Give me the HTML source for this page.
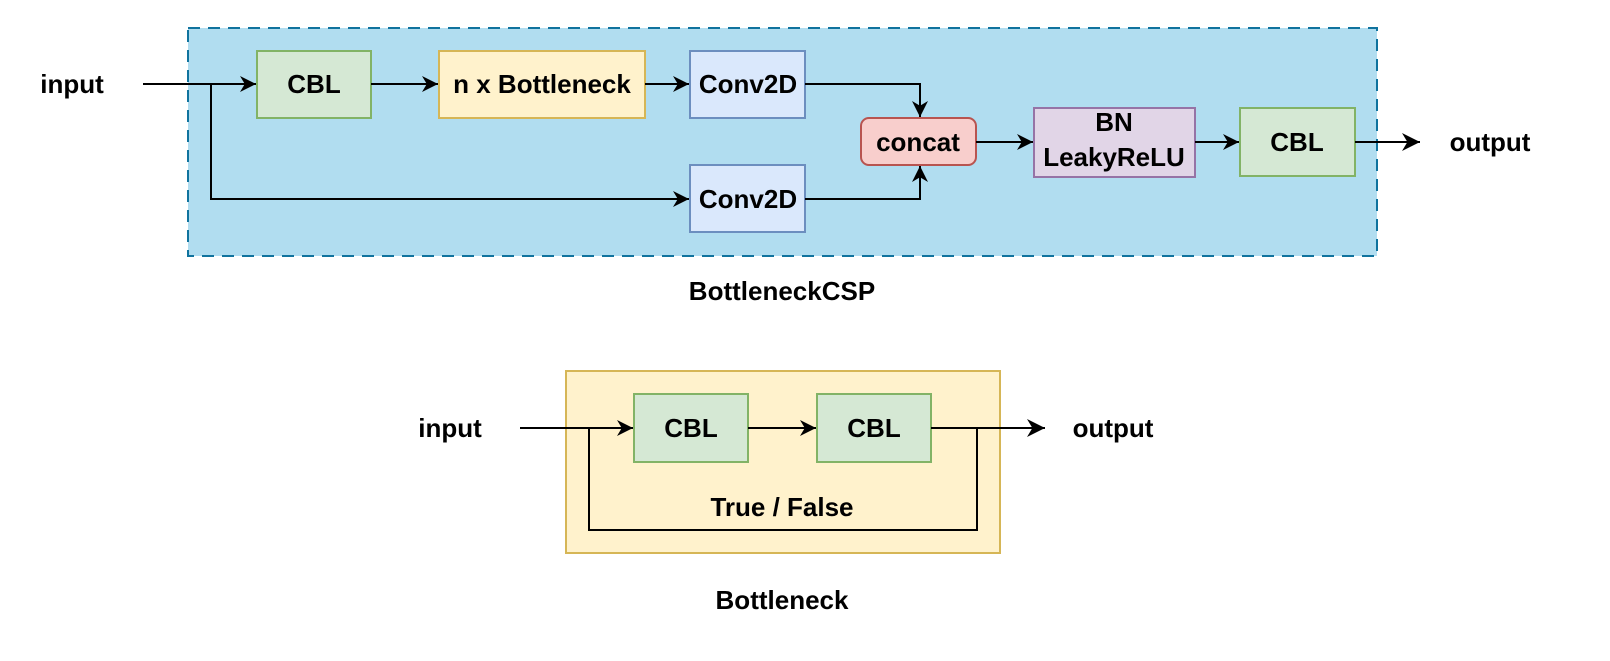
<!DOCTYPE html>
<html><head><style>html,body{margin:0;background:#fff;overflow:hidden}svg{display:block}</style></head><body>
<svg width="1610" height="661" viewBox="0 0 1610 661" xmlns="http://www.w3.org/2000/svg" font-family="Liberation Sans, sans-serif" font-weight="bold" font-size="26">
<defs><marker id="a" viewBox="0 0 10 10" refX="10" refY="5" markerWidth="16" markerHeight="16" markerUnits="userSpaceOnUse" orient="auto"><path d="M0,0 L10,5 L0,10 L3,5 Z" fill="#000"/></marker>
<marker id="b" viewBox="0 0 10 10" refX="10" refY="5" markerWidth="18" markerHeight="18" markerUnits="userSpaceOnUse" orient="auto"><path d="M0,0 L10,5 L0,10 L3,5 Z" fill="#000"/></marker></defs>
<rect x="188" y="28" width="1189" height="228" fill="#b1ddf0" stroke="#10739e" stroke-width="2" stroke-dasharray="12,8"/>
<g stroke-width="2">
<rect x="257" y="51" width="114" height="67" fill="#d5e8d4" stroke="#82b366"/>
<rect x="439" y="51" width="206" height="67" fill="#fff2cc" stroke="#d6b656"/>
<rect x="690" y="51" width="115" height="67" fill="#dae8fc" stroke="#6c8ebf"/>
<rect x="690" y="165" width="115" height="67" fill="#dae8fc" stroke="#6c8ebf"/>
<rect x="861" y="118" width="115" height="47" rx="8" fill="#f8cecc" stroke="#b85450"/>
<rect x="1034" y="108" width="161" height="69" fill="#e1d5e7" stroke="#9673a6"/>
<rect x="1240" y="108" width="115" height="68" fill="#d5e8d4" stroke="#82b366"/>
<rect x="566" y="371" width="434" height="182" fill="#fff2cc" stroke="#d6b656"/>
<rect x="634" y="394" width="114" height="68" fill="#d5e8d4" stroke="#82b366"/>
<rect x="817" y="394" width="114" height="68" fill="#d5e8d4" stroke="#82b366"/>
</g>
<g stroke="#000" stroke-width="2" fill="none" marker-end="url(#a)">
<path d="M143,84 H256"/>
<path d="M211,84 V199 H689"/>
<path d="M371,84 H438"/>
<path d="M645,84 H689"/>
<path d="M805,84 H920 V117"/>
<path d="M805,199 H920 V166"/>
<path d="M976,142 H1033"/>
<path d="M1195,142 H1239"/>
<path d="M1355,142 H1420" marker-end="url(#b)"/>
<path d="M520,428 H633"/>
<path d="M589,428 V530 H977 V428" marker-end="none"/>
<path d="M748,428 H816"/>
<path d="M931,428 H1045" marker-end="url(#b)"/>
</g>
<g text-anchor="middle" fill="#000">
<text x="72" y="93">input</text>
<text x="314" y="93">CBL</text>
<text x="542" y="93">n x Bottleneck</text>
<text x="748" y="93">Conv2D</text>
<text x="748" y="208">Conv2D</text>
<text x="918" y="151">concat</text>
<text x="1114" y="131">BN</text>
<text x="1114" y="166">LeakyReLU</text>
<text x="1297" y="151">CBL</text>
<text x="1490" y="151">output</text>
<text x="782" y="300">BottleneckCSP</text>
<text x="450" y="437">input</text>
<text x="691" y="437">CBL</text>
<text x="874" y="437">CBL</text>
<text x="1113" y="437">output</text>
<text x="782" y="516">True / False</text>
<text x="782" y="609">Bottleneck</text>
</g>
</svg>
</body></html>
